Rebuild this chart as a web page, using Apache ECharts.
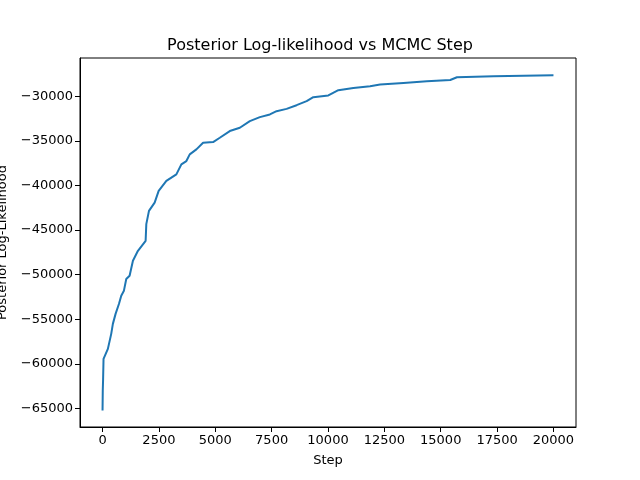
<!DOCTYPE html>
<html><head><meta charset="utf-8">
<script src="https://cdn.jsdelivr.net/npm/echarts@6/dist/echarts.min.js"></script>
<style>html,body{margin:0;padding:0;background:#fff}#c{width:640px;height:480px}</style>
</head><body><div id="c"></div>
<script>
const steps = [0, 10, 25, 44, 236, 385, 458, 578, 726, 830, 948, 1052, 1200, 1348, 1570, 1911, 1941, 2059, 2311, 2489, 2830, 3274, 3496, 3718, 3867, 4163, 4459, 4904, 5200, 5644, 6089, 6533, 6978, 7422, 7719, 8163, 8607, 9052, 9348, 10015, 10459, 11126, 11867, 12311, 13348, 14385, 15422, 15719, 17348, 20000];
const loglik = [-65220, -63000, -61700, -59440, -58320, -56640, -55520, -54400, -53290, -52360, -51800, -50490, -50120, -48450, -47330, -46210, -44340, -42860, -41930, -40620, -39500, -38760, -37640, -37270, -36520, -35960, -35220, -35140, -34660, -33910, -33540, -32800, -32350, -32050, -31680, -31420, -31010, -30560, -30110, -29920, -29330, -29070, -28880, -28700, -28510, -28320, -28180, -27880, -27760, -27650];
const xTicks = [0, 2500, 5000, 7500, 10000, 12500, 15000, 17500, 20000];
const yTicks = [-65000, -60000, -55000, -50000, -45000, -40000, -35000, -30000];

const chart = echarts.init(document.getElementById('c'));
const font = 'DejaVu Sans';
const fmt = v => (v < 0 ? '\u2212' : '') + String(Math.abs(v));
chart.setOption({
  animation: false,
  title: {text: 'Posterior Log-likelihood vs MCMC Step', left: 'center', top: 33,
    textStyle: {fontFamily: font, fontSize: 16, fontWeight: 'normal', color: '#000'}},
  grid: {left: 80, right: 64, top: 58, bottom: 53, containLabel: false, outerBoundsMode: 'none',
    show: true, borderColor: '#000', borderWidth: 1, backgroundColor: 'transparent'},
  xAxis: {type: 'value', min: -1000, max: 21000,
    name: 'Step', nameLocation: 'middle', nameGap: 27,
    nameTextStyle: {fontFamily: font, fontSize: 13, color: '#000'},
    axisLine: {show: true, onZero: false, lineStyle: {color: '#000', width: 1}},
    axisTick: {show: true, length: 5, lineStyle: {color: '#000'}, customValues: xTicks},
    axisLabel: {fontFamily: font, fontSize: 13, color: '#000', margin: 7, customValues: xTicks, formatter: fmt},
    splitLine: {show: false}},
  yAxis: {type: 'value', min: -67080, max: -25720,
    name: 'Posterior Log-Likelihood', nameLocation: 'middle', nameGap: 71, nameRotate: 90,
    nameTextStyle: {fontFamily: font, fontSize: 13, color: '#000'},
    axisLine: {show: true, onZero: false, lineStyle: {color: '#000', width: 1}},
    axisTick: {show: true, length: 5, lineStyle: {color: '#000'}, customValues: yTicks},
    axisLabel: {fontFamily: font, fontSize: 13, color: '#000', margin: 7, customValues: yTicks, formatter: fmt},
    splitLine: {show: false}},
  series: [{type: 'line', data: steps.map((s, i) => [s, loglik[i]]), showSymbol: false,
    lineStyle: {color: '#1f77b4', width: 2}, itemStyle: {color: '#1f77b4'}}]
});
</script></body></html>
